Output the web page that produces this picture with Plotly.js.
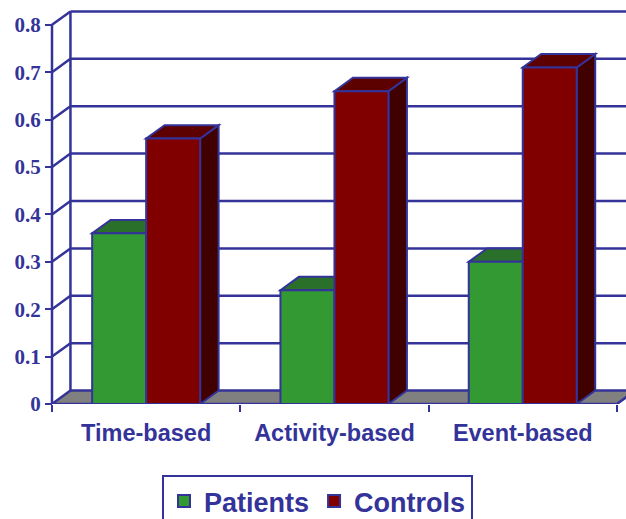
<!DOCTYPE html>
<html>
<head>
<meta charset="utf-8">
<script src="https://cdn.plot.ly/plotly-3.0.1.min.js"></script>
<style>html,body{margin:0;padding:0;background:#fff;}#chart{width:626px;height:519px;}</style>
</head>
<body>
<div id="chart"></div>
<script>
// ---- data ----
const categories = ['Time-based', 'Activity-based', 'Event-based'];
const seriesNames = ['Patients', 'Controls'];
const patients = [0.36, 0.24, 0.30];
const controls = [0.56, 0.66, 0.71];
const yTickVals = [0, 0.1, 0.2, 0.3, 0.4, 0.5, 0.6, 0.7, 0.8];
const yTickText = ['0', '0.1', '0.2', '0.3', '0.4', '0.5', '0.6', '0.7', '0.8'];

// ---- style ----
const BLUE = '#333399';
const frontCol = ['#339933', '#800000'];
const topCol = ['#2a702a', '#5c0000'];
const sideCol = ['#1d4f1d', '#400000'];
const W = 0.2868;      // bar width in category units
const DX = 0.098;      // depth offset (category units)
const DY = 0.0283;     // depth offset (value units)
const n = categories.length;
const lo = -0.5, hi = n - 0.5;
const yMax = yTickVals[yTickVals.length - 1];

const shapes = [];
function path(pts) {
  return 'M' + pts.map(p => p[0] + ',' + p[1]).join(' L') + ' Z';
}
function line(x0, y0, x1, y1, w) {
  shapes.push({type: 'line', layer: 'below', xref: 'x', yref: 'y', x0, y0, x1, y1,
    line: {color: BLUE, width: w || 2.5}});
}
// floor
shapes.push({type: 'path', layer: 'below', xref: 'x', yref: 'y',
  path: path([[lo, 0], [hi, 0], [hi + DX, DY], [lo + DX, DY]]),
  fillcolor: '#808080', line: {color: BLUE, width: 2.5}});
// back wall gridlines + side wall diagonals
yTickVals.forEach(t => {
  if (t > 0) {
    line(lo + DX, t + DY, hi + DX, t + DY);
    line(lo, t, lo + DX, t + DY);
  }
});
line(lo + DX, DY, lo + DX, yMax + DY);
line(lo, 0, lo, yMax);

// bar tops and sides (behind front faces)
const series = [patients, controls];
const offsets = [-W, 0];
categories.forEach((c, i) => {
  series.forEach((vals, s) => {
    const v = vals[i];
    const x0 = i + offsets[s], x1 = x0 + W;
    shapes.push({type: 'path', layer: 'below', xref: 'x', yref: 'y',
      path: path([[x1, 0], [x1 + DX, DY], [x1 + DX, v + DY], [x1, v]]),
      fillcolor: sideCol[s], line: {color: BLUE, width: 2}});
    shapes.push({type: 'path', layer: 'below', xref: 'x', yref: 'y',
      path: path([[x0, v], [x1, v], [x1 + DX, v + DY], [x0 + DX, v + DY]]),
      fillcolor: topCol[s], line: {color: BLUE, width: 2}});
  });
});

const traces = series.map((vals, s) => ({
  type: 'bar', name: seriesNames[s], x: categories, y: vals,
  width: W, offset: offsets[s],
  marker: {color: frontCol[s], line: {color: BLUE, width: 2}},
  hoverinfo: 'skip'
}));

const L = 44, PW = 626 - L, PH = 404;
const catPx = 188.3, pxPerUnit = 474;
const xStart = lo - 8 / catPx;

const layout = {
  width: 626, height: 519,
  margin: {l: L, r: 0, t: 0, b: 519 - PH, pad: 0, autoexpand: false},
  paper_bgcolor: '#fff', plot_bgcolor: 'rgba(0,0,0,0)',
  barmode: 'overlay',
  showlegend: true,
  xaxis: {
    type: 'category', range: [xStart, xStart + PW / catPx],
    ticks: 'outside', tickson: 'boundaries', ticklen: 7, tickwidth: 2, tickcolor: BLUE,
    ticklabelstandoff: 12,
    showgrid: false, zeroline: false, showline: false,
    tickfont: {family: 'Liberation Sans', size: 23.5, color: BLUE, weight: 'bold'}
  },
  yaxis: {
    range: [0, PH / pxPerUnit], anchor: 'free', position: 8 / PW,
    tickvals: yTickVals, ticktext: yTickText,
    ticks: 'outside', ticklen: 7, tickwidth: 2, tickcolor: BLUE,
    showgrid: false, zeroline: false, showline: false,
    tickfont: {family: 'Liberation Serif', size: 21, color: BLUE, weight: 'bold'}
  },
  legend: {
    orientation: 'h', x: (162 - L) / PW, xanchor: 'left',
    y: (PH - 475) / PH, yanchor: 'top',
    bgcolor: '#fff', bordercolor: BLUE, borderwidth: 2,
    font: {family: 'Liberation Sans', size: 27, color: BLUE, weight: 'bold'}
  },
  shapes: shapes
};

Plotly.newPlot('chart', traces, layout, {staticPlot: true, displayModeBar: false});
</script>
</body>
</html>
